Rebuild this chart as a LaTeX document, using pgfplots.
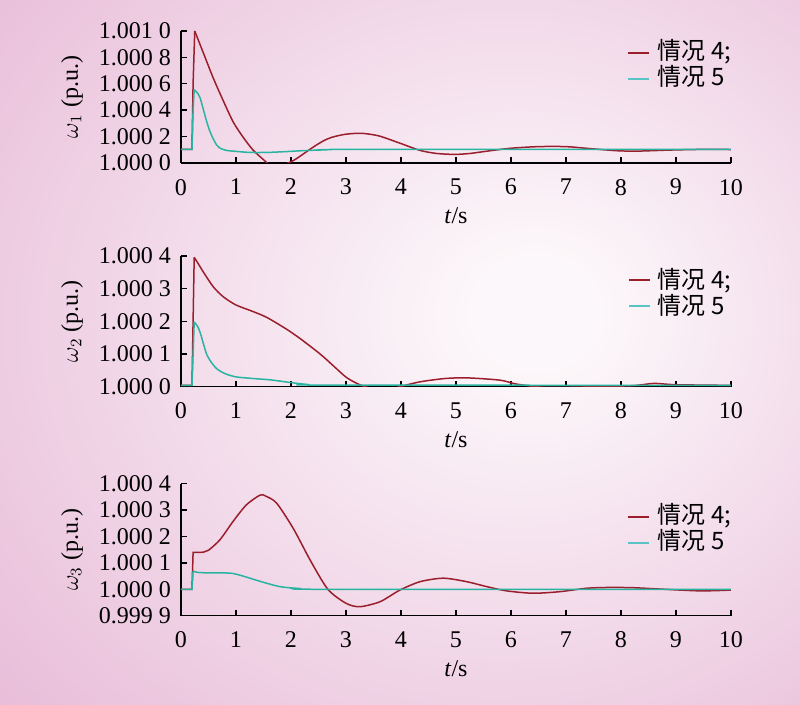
\documentclass[border=0pt]{standalone}
\usepackage{pgfplots}
\pgfplotsset{compat=1.18}
\usepackage{fontspec}
\setmainfont{Liberation Serif}
\newfontfamily\cjk{Noto Sans CJK SC}
\definecolor{cfour}{RGB}{155,30,45}
\definecolor{cfive}{RGB}{40,180,160}
\definecolor{cfivel}{RGB}{90,195,195}
\definecolor{bginner}{RGB}{252,247,250}
\definecolor{bgouter}{RGB}{230,182,213}
\pgfdeclareradialshading{bgshade}{\pgfpoint{9bp}{3bp}}{color(0bp)=(bginner); color(4bp)=(bginner); color(44bp)=(bgouter); color(80bp)=(bgouter)}
\newcommand{\lgline}[1]{\textcolor{#1}{\rule[3.9pt]{10.5pt}{0.8pt}}\hspace{4pt}}
\pgfplotsset{
  myaxis/.style={
    scale only axis, width=275pt,
    xmin=0, xmax=10, xtick={0,...,10},
    axis x line*=bottom, axis y line*=left,
    tick align=inside, major tick length=3pt,
    every tick/.style={black, line width=0.7pt},
    axis line style={black, line width=0.75pt},
    tick label style={font=\fontsize{12}{14}\selectfont},
    /pgf/number format/assume math mode=true,
    xticklabel style={yshift=-4.5pt},
    yticklabel style={xshift=-1.5pt},
    xlabel={\textit{t}/s},
    every axis x label/.style={at={(axis description cs:0.5,0)}, yshift=-26.5pt, anchor=center, font=\fontsize{12}{14}\selectfont},
    every axis y label/.style={at={(axis description cs:0,0.5)}, xshift=-54.5pt, rotate=90, anchor=center, font=\fontsize{12}{14}\selectfont},
    legend style={draw=none, fill=none, anchor=north east, inner sep=0pt, row sep=0pt, column sep=3.5pt,
      font=\cjk\fontsize{12}{14}\selectfont,
      nodes={inner sep=0.5pt, text height=9.5pt, text depth=2.5pt}},
    legend cell align=left,
    legend image code/.code={\draw[#1] (0pt,0pt) -- (10.5pt,0pt);},
    every axis plot/.append style={line width=0.75pt},
    sm/.style={smooth, tension=0.45},
  }
}
\begin{document}
\begin{tikzpicture}
\shade[shading=bgshade] (0,0) rectangle (400pt,352.5pt);
% omega 1
\begin{axis}[myaxis, at={(90.5pt,271pt)}, anchor=south west, height=66pt,
  ymin=0, ymax=10, ytick={0,2,4,6,8,10},
  yticklabels={1.000 0,1.000 2,1.000 4,1.000 6,1.000 8,1.001 0},
  ylabel={$\omega_1$ (p.u.)},
  legend style={at={(axis description cs:1.003,0.935)}}]
\addlegendimage{cfour, line width=0.75pt}\addlegendentry{情况 4;}
\addlegendimage{cfivel, line width=0.75pt}\addlegendentry{情况 5}
\addplot[cfour, forget plot] coordinates {(0,1.04)(0.2,1.04)(0.22,6)(0.25,10)};
\addplot[cfour, sm, forget plot] coordinates {(0.25,10)(0.41,8.3)(0.59,6.4)(0.77,4.7)(0.95,3.1)(1.13,1.95)(1.31,0.98)(1.5,0.25)(1.6,-0.1)(1.75,-0.3)(1.92,-0.05)(2.05,0.2)(2.16,0.5)(2.41,1.22)(2.6,1.7)(2.77,1.98)(3.0,2.18)(3.28,2.25)(3.6,2.05)(3.98,1.5)(4.35,0.95)(4.65,0.72)(4.98,0.65)(5.25,0.72)(5.5,0.86)(5.98,1.11)(6.5,1.24)(7.0,1.24)(7.38,1.11)(7.92,0.93)(8.3,0.9)(8.9,0.98)(9.5,1.03)(10,1.02)};
\addplot[cfive, forget plot] coordinates {(0,1.04)(0.2,1.04)(0.22,4)(0.24,5.55)};
\addplot[cfive, sm, forget plot] coordinates {(0.24,5.55)(0.3,5.3)(0.35,4.9)(0.41,4.0)(0.47,3.1)(0.53,2.35)(0.59,1.8)(0.65,1.35)(0.71,1.12)(0.83,0.95)(1.0,0.88)(1.25,0.8)(1.56,0.8)(1.9,0.86)(2.2,0.93)(2.6,0.99)(3.2,1.03)(10,1.04)};
\end{axis}
% omega 2
\begin{axis}[myaxis, at={(90.5pt,159.15pt)}, anchor=south west, height=65.35pt,
  ymin=0, ymax=4, ytick={0,1,2,3,4},
  yticklabels={1.000 0,1.000 1,1.000 2,1.000 3,1.000 4},
  ylabel={$\omega_2$ (p.u.)},
  legend style={at={(axis description cs:1.003,0.906)}, column sep=0pt}]
\addlegendimage{empty legend}\addlegendentry{\lgline{cfour}情况 4;}
\addlegendimage{empty legend}\addlegendentry{\lgline{cfivel}情况 5}
\addplot[cfour, forget plot] coordinates {(0,0.04)(0.2,0.04)(0.22,2.0)(0.24,3.96)};
\addplot[cfour, sm, forget plot] coordinates {(0.24,3.96)(0.3,3.8)(0.41,3.5)(0.59,3.05)(0.77,2.75)(1.0,2.5)(1.31,2.3)(1.56,2.12)(1.9,1.78)(2.16,1.48)(2.53,1.0)(2.77,0.64)(3.01,0.28)(3.25,0.06)(3.5,-0.07)(3.75,-0.1)(3.98,0.0)(4.35,0.15)(4.8,0.25)(5.2,0.27)(5.8,0.2)(6.1,0.08)(6.6,-0.02)(7.3,-0.01)(8.2,0.03)(8.6,0.1)(9.0,0.06)(10,0.04)};
\addplot[cfive, forget plot] coordinates {(0,0.04)(0.2,0.04)(0.22,1.0)(0.24,1.98)};
\addplot[cfive, sm, forget plot] coordinates {(0.24,1.98)(0.3,1.85)(0.35,1.65)(0.41,1.3)(0.47,0.98)(0.55,0.75)(0.65,0.55)(0.8,0.4)(1.0,0.3)(1.31,0.25)(1.62,0.21)(1.98,0.13)(2.29,0.07)(2.6,0.05)(10,0.04)};
\end{axis}
% omega 3
\begin{axis}[myaxis, at={(90.5pt,44.65pt)}, anchor=south west, height=66pt,
  ymin=-1, ymax=4, ytick={-1,0,1,2,3,4},
  yticklabels={0.999 9,1.000 0,1.000 1,1.000 2,1.000 3,1.000 4},
  ylabel={$\omega_3$ (p.u.)},
  legend style={at={(axis description cs:1.003,0.85)}}]
\addlegendimage{cfour, line width=0.75pt}\addlegendentry{情况 4;}
\addlegendimage{cfivel, line width=0.75pt}\addlegendentry{情况 5}
\addplot[cfour, forget plot] coordinates {(0,0)(0.2,0)(0.22,1.4)(0.38,1.4)};
\addplot[cfour, sm, forget plot] coordinates {(0.38,1.4)(0.5,1.48)(0.71,1.88)(0.95,2.58)(1.19,3.2)(1.44,3.57)(1.55,3.52)(1.74,3.26)(2.04,2.31)(2.35,1.1)(2.67,0.0)(3.0,-0.53)(3.25,-0.66)(3.62,-0.47)(3.98,-0.03)(4.35,0.29)(4.77,0.42)(5.19,0.29)(5.56,0.1)(5.92,-0.06)(6.4,-0.15)(6.89,-0.09)(7.38,0.04)(7.8,0.07)(8.22,0.06)(8.7,0.01)(9.44,-0.06)(10,-0.03)};
\addplot[cfive, forget plot] coordinates {(0,0)(0.2,0)(0.22,0.69)};
\addplot[cfive, sm, forget plot] coordinates {(0.22,0.69)(0.3,0.64)(0.5,0.62)(0.9,0.61)(1.13,0.5)(1.44,0.3)(1.8,0.1)(2.16,0.03)(2.6,0)(10,0)};
\end{axis}
\pgfresetboundingbox
\path (0,0) rectangle (400pt,352.5pt);
\end{tikzpicture}
\end{document}
